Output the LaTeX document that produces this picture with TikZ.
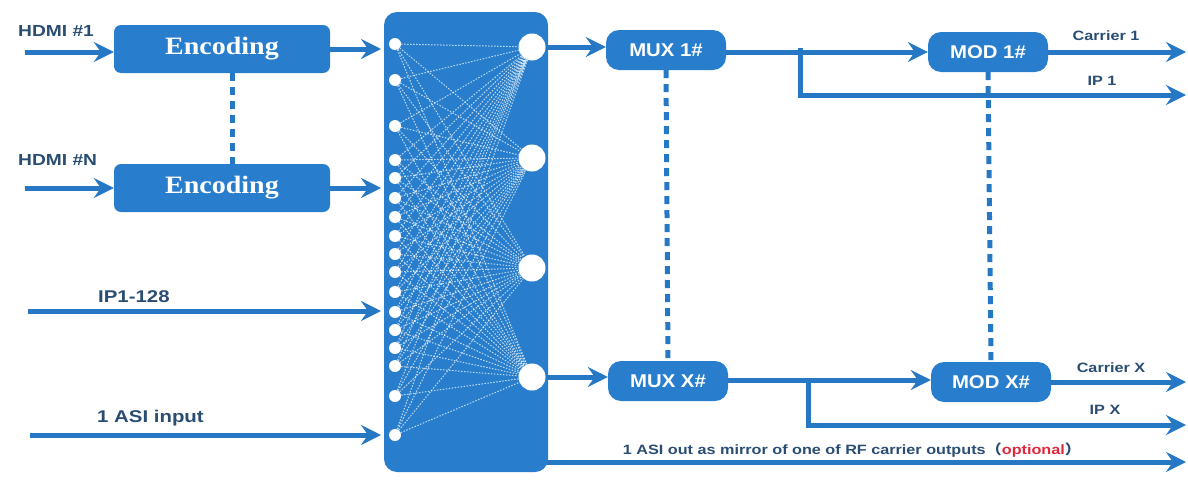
\documentclass[tikz,border=0pt]{standalone}
\usepackage{fontspec}
\usepackage{graphicx}
\setmainfont{Liberation Sans}
\newfontfamily\serifbold{Liberation Serif}
\newfontfamily\cjk{Noto Sans CJK SC}
\usetikzlibrary{arrows.meta}
\definecolor{boxblue}{RGB}{40,126,204}
\definecolor{lineblue}{RGB}{38,120,196}
\definecolor{labelc}{RGB}{42,78,115}
\definecolor{optred}{RGB}{222,40,60}
\newcommand{\wide}[1]{\scalebox{1.2}[1]{#1}}
\begin{document}
\begin{tikzpicture}[x=1pt,y=-1pt,
  blk/.style={fill=boxblue,draw=none,rounded corners=7pt,text=white,inner sep=0pt},
  muxbox/.style={fill=boxblue,draw=none,rounded corners=13pt,text=white,inner sep=0pt,
    minimum width=120pt,minimum height=40pt,font=\fontsize{18.5}{18.5}\selectfont\bfseries},
  flow/.style={draw=lineblue,line width=5pt,-{Stealth[length=20pt,width=20pt,inset=7pt]}},
  link/.style={draw=lineblue,line width=5pt},
  dotline/.style={draw=lineblue,line width=5pt,dash pattern=on 8pt off 6pt},
  lbl/.style={text=labelc,inner sep=0pt},
  smalldot/.style={circle,fill=white,draw=none,minimum size=12pt,inner sep=0pt},
  bigdot/.style={circle,fill=white,draw=none,minimum size=27pt,inner sep=0pt},
  mesh/.style={draw=white,line width=1pt,opacity=0.7,dash pattern=on 1.5pt off 1.5pt}]
\useasboundingbox (0,0) rectangle (1188,479);

% encoders
\node[blk,minimum width=216pt,minimum height=48pt,font=\serifbold\fontsize{25}{25}\selectfont\bfseries] (enc1) at (222,49) {\scalebox{1.12}[1]{Encoding}};
\node[blk,minimum width=216pt,minimum height=48pt,font=\serifbold\fontsize{25}{25}\selectfont\bfseries] (encN) at (222,188) {\scalebox{1.12}[1]{Encoding}};
\draw[dotline] ([xshift=10pt]enc1.south) -- ([xshift=10pt]encN.north);

% input labels and arrows
\node[lbl,font=\fontsize{16}{16}\selectfont\bfseries,anchor=west] (lh1) at (18,31) {\wide{HDMI \#1}};
\node[lbl,font=\fontsize{16}{16}\selectfont\bfseries,anchor=west] (lhN) at (18,160) {\wide{HDMI \#N}};
\node[lbl,font=\fontsize{17}{17}\selectfont\bfseries,anchor=west] (lip) at (98,297) {\wide{IP1-128}};
\node[lbl,font=\fontsize{17}{17}\selectfont\bfseries,anchor=west] (lasi) at (97,418) {\wide{1 ASI input}};
\coordinate (in1) at (25,52);
\coordinate (inN) at (25,188);
\coordinate (inip) at (28,311);
\coordinate (inasi) at (30,435);
\draw[flow] (in1) -- (in1 -| enc1.west);
\draw[flow] (inN) -- (inN -| encN.west);

% matrix
\coordinate (asistart) at (540,462);
\coordinate (asiend) at (1186,462);
\draw[flow] (asistart) -- (asiend);
\node[blk,rounded corners=13pt,minimum width=164pt,minimum height=460pt] (mx) at (466,242) {};
\coordinate (mxw) at (381,0);
\draw[flow] (enc1.east) -- (enc1.east -| mxw);
\draw[flow] (encN.east) -- (encN.east -| mxw);
\draw[flow] (inip) -- (inip -| mxw);
\draw[flow] (inasi) -- (inasi -| mxw);

\foreach \i/\yy in {1/44,2/80,3/126,4/160,5/178,6/198,7/217,8/236,9/254,10/272,11/292,12/312,13/330,14/348,15/366,16/396,17/435}
  \node[smalldot] (L\i) at (395,\yy) {};
\foreach \j/\yy in {1/47,2/158,3/268,4/377}
  \node[bigdot] (R\j) at (532,\yy) {};
\foreach \i in {1,...,17}
  \foreach \j in {1,...,4}
    \draw[mesh] (L\i) -- (R\j);

% mux / mod
\node[muxbox] (mux1) at (666,50) {\scalebox{1.1}[1]{MUX 1\#}};
\node[muxbox] (muxX) at (668,381) {\scalebox{1.1}[1]{MUX X\#}};
\node[muxbox] (mod1) at (988,52) {\scalebox{1.1}[1]{MOD 1\#}};
\node[muxbox] (modX) at (991,382) {\scalebox{1.1}[1]{MOD X\#}};
\draw[dotline] (mux1.south) -- (muxX.north);
\draw[dotline] (mod1.south) -- (modX.north);

\draw[flow] (R1.east) -- (R1.east -| mux1.west);
\draw[flow] (R4.east) -- (R4.east -| muxX.west);
\draw[flow] ([yshift=-2pt]mux1.east) -- ([yshift=-2pt]mux1.east -| mod1.west);
\draw[flow] ([yshift=1pt]muxX.east) -- ([yshift=1pt]muxX.east -| modX.west);

\coordinate (b1) at (800,48);
\coordinate (ip1end) at (1186,95);
\draw[link] (b1) -- (b1 |- ip1end);
\draw[flow] ([xshift=-2.5pt]b1 |- ip1end) -- (ip1end);
\coordinate (bX) at (808,382);
\coordinate (ipXend) at (1186,425);
\draw[link] (bX) -- (bX |- ipXend);
\draw[flow] ([xshift=-2.5pt]bX |- ipXend) -- (ipXend);

\coordinate (c1end) at (1186,52);
\coordinate (cXend) at (1186,382);
\draw[flow] (mod1.east) -- (c1end);
\draw[flow] (modX.east) -- (cXend);

% output labels
\node[lbl,font=\fontsize{13.5}{13.5}\selectfont\bfseries] (lc1) at (1106,36) {\wide{Carrier 1}};
\node[lbl,font=\fontsize{13.5}{13.5}\selectfont\bfseries] (lip1) at (1102,81) {\wide{IP 1}};
\node[lbl,font=\fontsize{13.5}{13.5}\selectfont\bfseries] (lcX) at (1111,368) {\wide{Carrier X}};
\node[lbl,font=\fontsize{13.5}{13.5}\selectfont\bfseries] (lipX) at (1105,410) {\wide{IP X}};
\node[lbl,font=\fontsize{13.5}{13.5}\selectfont\bfseries] (lasiout) at (852,450) {\wide{1 ASI out as mirror of one of RF carrier outputs{\cjk （}\textcolor{optred}{optional}{\cjk ）}}};
\end{tikzpicture}
\end{document}
